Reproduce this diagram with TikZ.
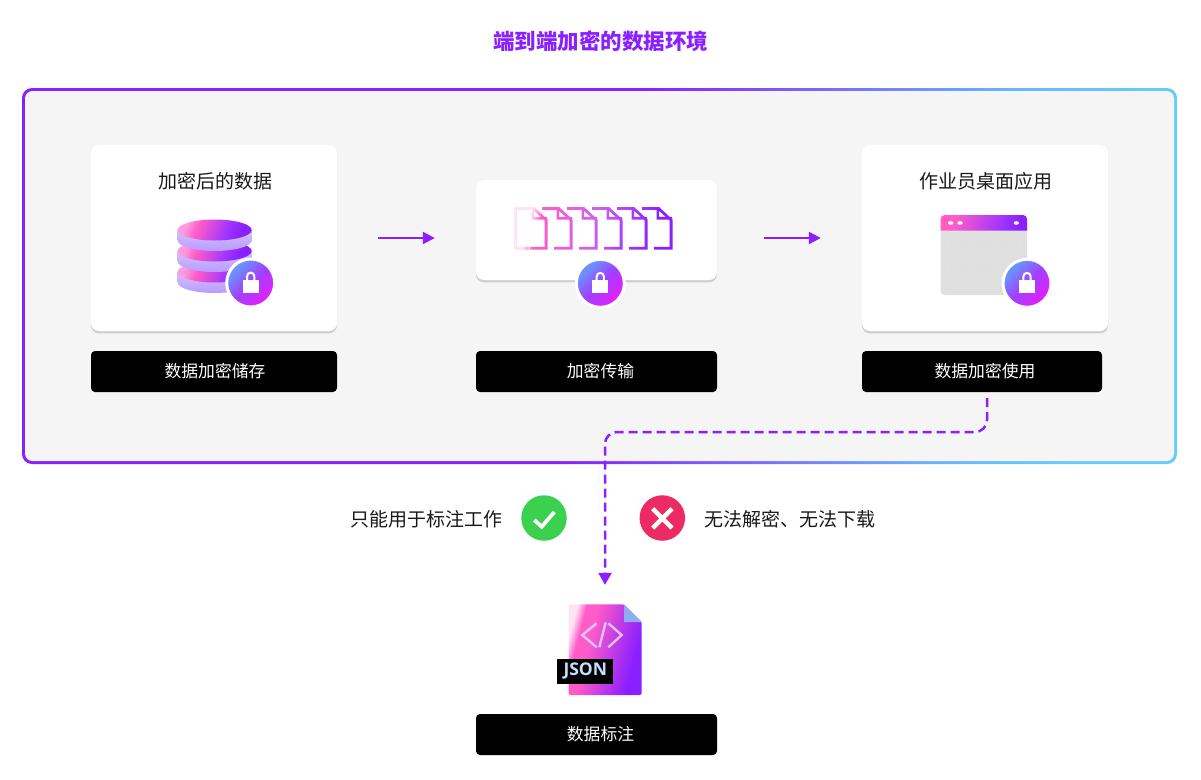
\documentclass[tikz,border=0pt]{standalone}
\usepackage{fontspec}
\setmainfont{Noto Sans CJK SC}
\newfontfamily\tagfont{Open Sans}
\usetikzlibrary{arrows.meta}

\definecolor{brandpurple}{HTML}{8A1FFF}
\definecolor{brandpink}{HTML}{FF5CC8}
\definecolor{palepink}{HTML}{FFE4F6}
\definecolor{softpink}{HTML}{FF9ADF}
\definecolor{midpurple}{HTML}{A034FF}
\definecolor{doclilac}{HTML}{D060F0}
\definecolor{skyblue}{HTML}{68B4FF}
\definecolor{cyanblue}{HTML}{66CCFF}
\definecolor{panelgray}{HTML}{F5F5F5}
\definecolor{cardshadow}{HTML}{CFCFCF}
\definecolor{lockblue}{HTML}{6C90FF}
\definecolor{lockmid}{HTML}{A040FF}
\definecolor{lockpink}{HTML}{E020FF}
\definecolor{sidetop}{HTML}{D4C0FF}
\definecolor{sidebottom}{HTML}{B89CFF}
\definecolor{foldblue}{HTML}{8FACF0}
\definecolor{codelilac}{HTML}{DCC0FF}
\definecolor{tagblue}{HTML}{C4DEFF}
\definecolor{okgreen}{HTML}{3BD14F}
\definecolor{badred}{HTML}{EC2A63}

\pgfdeclarehorizontalshading{gradBorder}{100bp}{color(0bp)=(brandpurple);color(50bp)=(brandpurple);color(68bp)=(skyblue);color(75bp)=(cyanblue);color(100bp)=(cyanblue)}
\pgfdeclarehorizontalshading{gradJson}{100bp}{color(0bp)=(palepink);color(25bp)=(palepink);color(31bp)=(brandpink);color(38bp)=(brandpink);color(70bp)=(brandpurple);color(100bp)=(brandpurple)}
\pgfdeclarehorizontalshading{gradDoc}{100bp}{color(0bp)=(palepink);color(26bp)=(palepink);color(30bp)=(brandpink);color(50bp)=(doclilac);color(72bp)=(brandpurple);color(100bp)=(brandpurple)}
\pgfdeclarehorizontalshading{gradDisc}{100bp}{color(0bp)=(softpink);color(26bp)=(softpink);color(36bp)=(brandpink);color(60bp)=(midpurple);color(72bp)=(brandpurple);color(100bp)=(brandpurple)}
\pgfdeclarehorizontalshading{gradHeader}{100bp}{color(0bp)=(brandpink);color(30bp)=(brandpink);color(62bp)=(midpurple);color(75bp)=(brandpurple);color(100bp)=(brandpurple)}
\pgfdeclarehorizontalshading{gradLock}{100bp}{color(0bp)=(lockblue);color(30bp)=(lockblue);color(50bp)=(lockmid);color(72bp)=(lockpink);color(100bp)=(lockpink)}
\pgfdeclareverticalshading{gradSide}{100bp}{color(0bp)=(sidebottom);color(25bp)=(sidebottom);color(75bp)=(sidetop);color(100bp)=(sidetop)}

\newcommand{\labtext}[2]{\hspace{#1}\raisebox{-1.2pt}{#2}}

\tikzset{
	cardbox/.style={fill=white,rounded corners=8pt,minimum width=246pt,inner sep=0pt,
		preaction={fill=cardshadow,transform canvas={yshift=-2.4pt}}},
	labelbox/.style={fill=black,text=white,rounded corners=4pt,minimum width=241pt,minimum height=41pt,
		inner sep=0pt,font=\fontsize{16.8}{20}\selectfont},
	headtext/.style={inner sep=0pt,text=black!90,font=\fontsize{19}{23}\selectfont},
	flowarrow/.style={draw=brandpurple,line width=2.2pt,-{Triangle[length=12pt,width=12pt]}},
	lockdisc/.style={circle,draw=white,line width=3pt,minimum size=48pt,inner sep=0pt,
		shade,shading=gradLock,shading angle=-45},
	lockglyph/.pic={
		\fill[white] (-8,-3) rectangle (8,9.7);
		\draw[white,line width=2pt] (-3.6,-3) -- (-3.6,-6.8) arc[start angle=180,end angle=360,radius=3.6] -- (3.6,-3);
	}
}

\begin{document}
\begin{tikzpicture}[x=1pt,y=-1pt]
	\useasboundingbox (0,0) rectangle (1201,779);
	\node[inner sep=0pt,text=brandpurple,font=\fontsize{21.5}{26}\selectfont\bfseries](title) at (600.5,41.5) {端到端加密的数据环境};

	% panel
	\shade[shading=gradBorder,shading angle=-12,rounded corners=10pt] (22,88) rectangle (1177,464);
	\fill[panelgray,rounded corners=7.5pt] (25,91) rectangle (1174,461);

	% cards
	\node[cardbox,minimum height=186pt](card1) at (214,238) {};
	\node[cardbox,minimum width=241pt,minimum height=100pt](card2) at (596.5,230) {};
	\node[cardbox,minimum height=186pt](card3) at (985,238) {};
	\node[headtext](head1) at (215,181) {加密后的数据};
	\node[headtext](head3) at (985.5,181) {作业员桌面应用};
	\node[labelbox,minimum width=246pt](lab1) at (214,371.5) {\labtext{2pt}{数据加密储存}};
	\node[labelbox](lab2) at (596.5,371.5) {\labtext{8pt}{加密传输}};
	\node[labelbox,minimum width=240pt](lab3) at (982,371.5) {\labtext{6pt}{数据加密使用}};
	\node[labelbox](lab4) at (596.5,734.5) {\labtext{8pt}{数据标注}};

	% database
	\foreach \y in {272,251,230} {
		\shade[shading=gradSide] (177.7,\y) -- (177.7,\y+10.5) arc[start angle=180,end angle=0,x radius=37,y radius=10.5] -- (251.7,\y) -- cycle;
		\shade[shading=gradDisc,shading angle=-20] (214.7,\y) ellipse [x radius=37,y radius=10.5];
	}

	% documents
	\begin{scope}
		\clip (514,207) rectangle (516.8,249.5) (514,246.8) rectangle (530,249.5)
		\foreach \d in {0,25,50,75,100,125} {
			(517+\d,207) -- (534+\d,207) -- (547.5+\d,219.5) -- (547.5+\d,249.5) -- (529+\d,249.5) -- (529+\d,246.8)
			-- (544.7+\d,246.8) -- (544.7+\d,220.5) -- (533+\d,209.8) -- (517+\d,209.8) -- cycle
			(531.5+\d,207) -- (534+\d,207) -- (534+\d,216.8) -- (547+\d,216.8) -- (547+\d,219.5) -- (531.5+\d,219.5) -- cycle
		};
		\shade[shading=gradDoc,shading angle=-15] (514,207) rectangle (673,250);
	\end{scope}

	% window
	\fill[black!12,rounded corners=4pt] (940.7,225) rectangle (1027,295);
	\foreach \px in {945,951.5,...,1024} {
		\foreach \py in {235,241,...,292} {
			\fill[black!17] (\px,\py) circle (0.45);
		}
	}
	\shade[shading=gradHeader,shading angle=-12] (940.7,230.7) {[rounded corners=4pt] -- (940.7,215) -- (1027,215)} -- (1027,230.7) -- cycle;
	\foreach \px in {950.7,960,1016.3} {
		\fill[white] (\px,223) ellipse [x radius=2.7,y radius=1.8];
	}

	% locks
	\node[lockdisc](lock1) at (250.7,283) {};
	\node[lockdisc](lock2) at (600.3,283.3) {};
	\node[lockdisc](lock3) at (1027,283.3) {};
	\pic at (lock1) {lockglyph};
	\pic at (lock2) {lockglyph};
	\pic at (lock3) {lockglyph};

	% connectors
	\draw[flowarrow,shorten <=41pt,shorten >=41pt] (card1.east) -- (card1.east -| card2.west);
	\draw[flowarrow,shorten <=47pt,shorten >=41pt] (card2.east |- card3.west) -- (card3.west);
	\node[inner sep=0pt,minimum width=73pt,minimum height=91pt](jsonfile) at (605,649.5) {};
	\coordinate (bend) at (605,432);
	\draw[flowarrow,line width=2.5pt,dash pattern=on 9pt off 5pt,rounded corners=12pt,shorten <=6pt,shorten >=19pt,
		-{Triangle[length=12pt,width=13pt,sep=0pt]}] ([xshift=5pt]lab3.south) |- (bend) -- (jsonfile.north);

	% checks
	\node[headtext,anchor=east](oktext) at (502.5,519.5) {只能用于标注工作};
	\node[circle,fill=okgreen,minimum size=45.5pt,inner sep=0pt](okmark) at (544,518) {};
	\draw[white,line width=3.8pt] (534.3,520) -- (541.7,526.7) -- (554.3,512);
	\node[circle,fill=badred,minimum size=45.5pt,inner sep=0pt](badmark) at (662.3,518) {};
	\draw[white,line width=4.5pt] (652.7,508.7) -- (672,528) (672,508.7) -- (652.7,528);
	\node[headtext,anchor=west](badtext) at (704,519.5) {无法解密、无法下载};

	% json file
	\shade[shading=gradJson,shading angle=-15,rounded corners=1.5pt] (568.5,604.3) -- (624,604.3) -- (641.7,622) -- (641.7,695) -- (568.5,695) -- cycle;
	\fill[foldblue] (624,604.3) -- (641.7,622) -- (624,622) -- cycle;
	\draw[codelilac,line width=2.4pt] (596.7,623.3) -- (582.3,635) -- (596.7,647.3);
	\draw[codelilac,line width=2.4pt] (605.7,622.3) -- (599.3,647.3);
	\draw[codelilac,line width=2.4pt] (608.3,623.3) -- (621.7,635) -- (608.3,647.3);
	\node[fill=black,text=tagblue,minimum width=56pt,minimum height=25pt,inner sep=0pt,font=\tagfont\fontsize{17.5}{19}\selectfont\bfseries](jsontag) at (585.3,671) {\raisebox{-1pt}{JSON}};
\end{tikzpicture}
\end{document}
